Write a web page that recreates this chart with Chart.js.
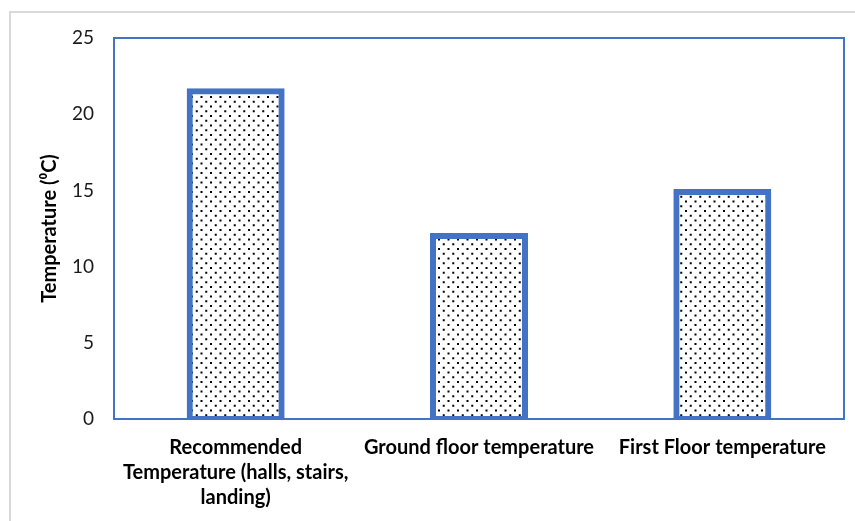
<!DOCTYPE html>
<html>
<head>
<meta charset="utf-8">
<script src="https://cdn.jsdelivr.net/npm/chart.js@4/dist/chart.umd.min.js"></script>
<style>
  html, body { margin: 0; padding: 0; background: #fff; }
  #wrap { width: 855px; height: 521px; }
</style>
</head>
<body>
<div id="wrap"><canvas id="chart" width="855" height="521"></canvas></div>
<script>
// Categories (multi-line label for the first one) and measured temperatures
const categories = [
  ["Recommended", "Temperature (halls, stairs,", "landing)"],
  "Ground floor temperature",
  "First Floor temperature"
];
const temperatures = [21.5, 12, 14.9];
const yMin = 0;
const yMax = 25;
const yStep = 5;
const yTitle = "Temperature (\u2070C)";

const BLUE = "#4472C4";

// Dotted fill: offset rows of small dark dots
function dotPattern() {
  const size = 19;
  const c = document.createElement("canvas");
  c.width = size;
  c.height = size;
  const g = c.getContext("2d");
  g.fillStyle = "#ffffff";
  g.fillRect(0, 0, size, size);
  g.fillStyle = "#000000";
  const step = size / 2;
  for (let i = 0; i < 2; i++) {
    for (let j = 0; j < 2; j++) {
      g.fillRect(1 + i * step, 1 + j * step, 2, 2);
      g.fillRect(1 + i * step + step / 2, 1 + j * step + step / 2, 2, 2);
    }
  }
  return document.createElement("canvas").getContext("2d").createPattern(c, "repeat");
}

// Light outer frame of the chart object and the blue plot-area box
const framePlugin = {
  id: "frames",
  beforeDraw(chart) {
    const ctx = chart.ctx;
    ctx.save();
    ctx.fillStyle = "#ffffff";
    ctx.fillRect(0, 0, chart.width, chart.height);
    ctx.strokeStyle = "#d9d9d9";
    ctx.lineWidth = 2;
    ctx.beginPath();
    ctx.moveTo(10, chart.height + 2);
    ctx.lineTo(10, 12);
    ctx.lineTo(chart.width + 2, 12);
    ctx.stroke();
    ctx.restore();
  },
  beforeDatasetsDraw(chart) {
    const a = chart.chartArea;
    const ctx = chart.ctx;
    ctx.save();
    ctx.strokeStyle = BLUE;
    ctx.lineWidth = 2;
    ctx.strokeRect(a.left, a.top, a.right - a.left, a.bottom - a.top);
    ctx.restore();
  }
};

new Chart(document.getElementById("chart"), {
  type: "bar",
  data: {
    labels: categories,
    datasets: [{
      data: temperatures,
      backgroundColor: dotPattern(),
      borderColor: BLUE,
      borderWidth: 6,
      borderSkipped: false,
      inflateAmount: 3,
      categoryPercentage: 1,
      barPercentage: 0.378
    }]
  },
  options: {
    responsive: false,
    animation: false,
    events: [],
    layout: { padding: { top: 38, right: 11, left: 0, bottom: 0 } },
    plugins: {
      legend: { display: false },
      tooltip: { enabled: false }
    },
    scales: {
      x: {
        grid: { display: false, drawTicks: false },
        border: { display: false },
        afterFit(scale) { scale.height = 102; },
        ticks: {
          autoSkip: false,
          maxRotation: 0,
          padding: 16,
          color: "#000000",
          font: { family: "Lato", size: 20, weight: "bold", lineHeight: "25px" }
        }
      },
      y: {
        min: yMin,
        max: yMax,
        grid: { display: false, drawTicks: false },
        border: { display: false },
        afterFit(scale) { scale.width = 114; },
        ticks: {
          stepSize: yStep,
          padding: 20,
          color: "#1a1a1a",
          font: { family: "Lato", size: 19 }
        },
        title: {
          display: true,
          text: yTitle,
          color: "#000000",
          padding: { top: 38, bottom: 0 },
          font: { family: "Lato", size: 20, weight: "bold", lineHeight: 1.2 }
        }
      }
    }
  },
  plugins: [framePlugin]
});
</script>
</body>
</html>
